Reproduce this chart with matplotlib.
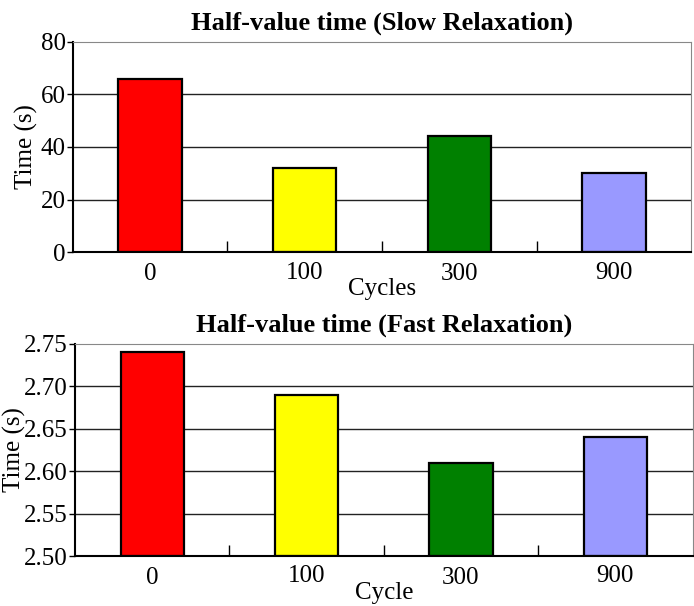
import matplotlib
matplotlib.use("Agg")
import matplotlib.pyplot as plt
from matplotlib.ticker import FixedLocator

categories = ["0", "100", "300", "900"]
slow_values = [65.8, 32.0, 44.0, 30.0]
fast_values = [2.74, 2.69, 2.61, 2.64]
bar_colors = ["#ff0000", "#ffff00", "#008000", "#9999ff"]
slow_yticks = [0, 20, 40, 60, 80]
fast_yticks = [2.50, 2.55, 2.60, 2.65, 2.70, 2.75]
fast_yticklabels = ["2.50", "2.55", "2.60", "2.65", "2.70", "2.75"]

plt.rcParams['font.family'] = ['Liberation Serif', 'DejaVu Serif']

fig = plt.figure(figsize=(6.94, 6.06), dpi=100)
ax1 = fig.add_axes([0.105, 0.584, 0.891, 0.347])
ax2 = fig.add_axes([0.108, 0.0825, 0.890, 0.35])


def style(ax, values, yticks, ylim, title, xlabel, yticklabels=None, ylabelpad=2):
    x = list(range(len(categories)))
    ax.set_axisbelow(True)
    for yt in yticks[1:-1]:
        ax.axhline(yt, color="#222222", lw=1.0, zorder=0)
    ax.bar(x, [v - ylim[0] for v in values], bottom=ylim[0], width=0.41,
           color=bar_colors, edgecolor="black", linewidth=1.6, zorder=2)
    ax.set_xlim(-0.5, 3.5)
    ax.set_ylim(*ylim)
    ax.set_xticks(x)
    ax.set_xticklabels(categories, fontsize=18)
    ax.xaxis.set_minor_locator(FixedLocator([0.5, 1.5, 2.5]))
    ax.tick_params(axis="x", which="major", length=0, pad=8)
    ax.tick_params(axis="x", which="minor", direction="in", length=8, width=1)
    ax.set_yticks(yticks)
    if yticklabels is not None:
        ax.set_yticklabels(yticklabels)
    ax.tick_params(axis="y", direction="out", length=4, width=1, labelsize=18, pad=1)
    ax.set_title(title, fontsize=19, fontweight="bold", pad=9)
    ax.set_xlabel(xlabel, fontsize=18, labelpad=-5)
    ax.set_ylabel("Time (s)", fontsize=18, labelpad=ylabelpad)
    ax.spines["left"].set_linewidth(1.5)
    ax.spines["bottom"].set_linewidth(1.5)
    ax.spines["top"].set_color("#888888")
    ax.spines["right"].set_color("#888888")
    for lbl in ax.get_xticklabels()[1::2]:
        lbl.set_y(0.008)


style(ax1, slow_values, slow_yticks, (0, 80), "Half-value time (Slow Relaxation)", "Cycles")
style(ax2, fast_values, fast_yticks, (2.50, 2.75), "Half-value time (Fast Relaxation)", "Cycle",
      fast_yticklabels, ylabelpad=-1)

fig.savefig("out.png", dpi=100)
